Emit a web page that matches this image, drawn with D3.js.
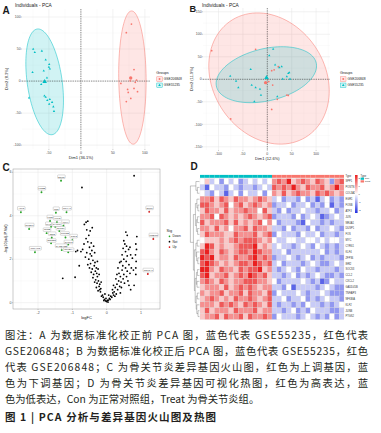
<!DOCTYPE html>
<html>
<head>
<meta charset="utf-8">
<script src="https://cdn.jsdelivr.net/npm/d3@7"></script>
<style>
body { margin: 0; background: #fff; }
text { font-family: "Liberation Sans", Arial, sans-serif; }
</style>
</head>
<body>
<script>
// ---------- données ----------
// A : PCA avant correction (Dim1, Dim2)
const pcaA_GSE206848 = [[79,89],[71,75.5],[83,18],[77,0.5],[87,1.5],[62.5,-3.6],[73,-13],[83,-11.5],[88.5,-16.5],[74,-17.7],[78,-27],[71,-32],[85,-2]]
const pcaA_GSE55235 = [[-74.5,50],[-72,45],[-61,47],[-55,33],[-49.5,26],[-50,22],[-75.5,13.5],[-58,16],[-48.5,19],[-81,-26],[-57,-23],[-55,-25],[-52.5,-30],[-48.5,-28.5],[-45,-33],[-43,-40],[-49.5,-36],[-42,-47],[-62,-5],[-53,5]]
// ellipses : centre x, centre y, demi-grand axe, demi-petit axe, angle (degrés)
const ellA_GSE206848 = [80.5, 5.5, 104, 21.4, 90.7]
const ellA_GSE55235 = [-56.6, -1.2, 83.3, 27.3, 98]

// B : PCA après correction
const pcaB_GSE206848 = [[-114,63.6],[-24,66.7],[9,19],[14,21],[22.5,28],[11,-12.7],[40,-35],[43,-36],[20.5,-44.5],[9,-67],[-75,-88],[3,-5]]
const pcaB_GSE55235 = [[-76,7],[-64,-4],[-59.4,-18.6],[-34,22],[-32,-12.7],[-24,-18.6],[-15,-21.6],[-13,-35],[-26.6,-49.7],[4,52.5],[16,32],[24.6,26],[29.5,28],[31.5,0.7],[40,5.8],[43,13],[45,14.7],[46.5,0.7],[20.5,-38.6],[12,67]]
const ellB_GSE206848 = [3.5, 1.7, 151, 117, -65.6]
const ellB_GSE55235 = [-2, 10.2, 105.6, 57.6, 15.4]

const groups = ["GSE206848", "GSE55235"]

// C : volcan (logFC, -log10 adj.P)
const downGenes = ["EGR1","FOSB","ATF3","JUN","NR4A1","DUSP1","FOS","MYC","CYR61","KLF4","ZFP36","IER2","SOCS3","CCL2","CXCL2","GADD45B","TNFAIP3","NFKBIA","KLF2","JUNB","PTGS2"]
const downPts = [[-1.33,5.61],[-1.9,5.08],[-2.5,4.16],[-1.48,4.14],[-1.17,4.16],[-2.26,3.39],[-1.65,3.76],[-1.62,3.49],[-1.5,3.49],[-1.26,3.54],[-1.38,3.3],[-1.6,2.99],[-1.62,2.73],[-1.0,2.88],[-1.12,2.68],[-1.31,2.42],[-2.09,2.32],[-1.12,2.32],[-1.45,3.7],[-1.75,3.2],[-1.2,3.0]]
const upGenes = ["SPP1","POSTN","COL3A1"]
const upPts = [[1.24,4.18],[1.36,2.93],[1.2,1.32]]
const notPts = [[0,0.05],[0.02,0.1],[-0.03,0.08],[0.05,0.12],[-0.06,0.15],[0.08,0.2],[-0.1,0.25],[0.1,0.15],[-0.08,0.1],[0.04,0.03],[-0.02,0.2],[0.12,0.3],[-0.12,0.35],[0.15,0.25],[-0.15,0.3],[0.06,0.35],[-0.05,0.4],[0.18,0.45],[-0.18,0.5],[0.2,0.35],
  [-0.2,0.6],[-0.22,0.75],[-0.25,0.55],[-0.28,0.9],[-0.3,0.7],[-0.32,1.05],[-0.27,1.2],[-0.35,0.95],[-0.38,1.3],[-0.33,1.45],[-0.4,1.15],[-0.42,1.55],[-0.36,1.7],[-0.45,1.4],[-0.47,1.8],[-0.4,1.95],[-0.5,1.6],[-0.52,2.0],[-0.44,2.15],[-0.55,1.75],[-0.3,1.6],[-0.24,1.0],[-0.2,0.85],[-0.17,0.65],[-0.29,1.35],[-0.34,1.85],[-0.43,2.4],[-0.48,2.25],[-0.38,2.6],[-0.58,2.3],[-0.62,2.1],[-0.35,2.3],[-0.27,1.9],[-0.22,1.3],[-0.16,0.95],[-0.25,1.55],[-0.5,2.55],[-0.45,2.75],[-0.55,2.8],[-0.6,2.95],[-0.52,3.1],[-0.58,3.35],[-0.48,3.3],[-0.42,3.45],[-0.65,3.6],[-0.6,3.7],[-0.55,3.75],[-0.7,2.45],[-0.75,2.35],[-0.85,2.4],[-0.66,2.7],[-0.8,1.7],[-0.9,2.35],
  [-0.72,5.3],[0.8,5.84],[-1.28,1.12],[-0.92,1.17],
  [0.22,0.5],[0.25,0.7],[0.28,0.4],[0.3,0.85],[0.32,0.6],[0.35,1.0],[0.27,1.1],[0.38,0.75],[0.4,1.2],[0.36,1.35],[0.42,0.95],[0.45,1.5],[0.48,1.1],[0.5,1.3],[0.52,0.9],[0.47,1.7],[0.55,1.6],[0.58,1.2],[0.6,1.45],[0.62,1.0],[0.57,1.9],[0.65,1.75],[0.68,1.35],[0.7,0.6],[0.72,1.6],[0.5,2.0],[0.45,2.2],[0.55,2.35],[0.6,2.15],[0.48,2.5],[0.53,2.7],[0.58,2.6],[0.5,2.85],[0.64,2.45],[0.6,3.1],[0.56,3.25],[0.85,1.3],[0.85,1.6],[0.86,1.9],[0.84,2.2],[0.87,2.45],[0.85,2.7],[0.88,3.04],[0.7,2.2],[0.75,2.05],[0.8,0.8],[0.4,0.45],[0.33,1.6],[0.38,1.85],[0.3,1.3],[0.2,0.8],[0.17,0.6],[0.24,0.3],[0.43,0.7],[0.65,0.8],[0.78,1.5],[0.68,2.55],[0.42,1.9]]

// D : heatmap, 24 gènes x 30 échantillons (0 = -2 bleu, 4 = 0 blanc, 8 = +2 rouge)
const heatGenes = upGenes.concat(downGenes)
const sampleType = d3.range(30).map(i => i < 15 ? "Con" : "Treat")
const heatRows = [
  "453424342343434676856765765267",
  "314332432332343767686576675686",
  "432431342433424657567665767656",
  "667576576656765342332423134232",
  "776567467567656233423342324132",
  "576657566766475324233433233423",
  "667476565676567233324234312343",
  "756667575656746423332143323233",
  "665756466757665332423324233432",
  "576665576667567243332433423323",
  "455565676777656433443344343443",
  "587565567778565343323432432323",
  "786576567768766334233333342323",
  "878566576678676233432342323332",
  "787656567768767342333234322343",
  "886576657677856323432433233323",
  "785667567687675332342323432232",
  "676576566777665423333432312433",
  "566657567676566332413333234322",
  "656675667576657243334323343222",
  "567656576676567334233423234332",
  "666576765767657323323243323234",
  "575666576667566332342324333223",
  "566757667576676243332343232423"
]
// dendrogramme des lignes : [hauteur, gauche, droite], feuille = index de ligne
const rowTree = [9,
  [3.5, 0, [2, 1, 2]],
  [6,
    [4, [2.5, 3, [1.5, 4, 5]], [3, [2, 6, 7], [1.8, 8, 9]]],
    [5, [3.5, [2.2, 10, 11], [2.8, 12, [1.6, 13, 14]]],
        [4.2, [3, [2, 15, 16], [2.4, 17, 18]], [3.2, [2.1, 19, 20], [2.6, 21, [1.4, 22, 23]]]]]]]

const captionLines = [
  "图注：A 为数据标准化校正前 PCA 图，蓝色代表 GSE55235，红色代表",
  "GSE206848；B 为数据标准化校正后 PCA 图，蓝色代表 GSE55235，红色",
  "代表 GSE206848；C 为骨关节炎差异基因火山图，红色为上调基因，蓝",
  "色为下调基因；D 为骨关节炎差异基因可视化热图，红色为高表达，蓝",
  "色为低表达，Con 为正常对照组，Treat 为骨关节炎组。"
]
const figTitle = "图 1 | PCA 分析与差异基因火山图及热图"

// ---------- dessin ----------
const RED = "#F8766D", TEAL = "#00BFC4"
const grpCol = {GSE206848: RED, GSE55235: TEAL}

const svg = d3.select("body").append("svg")
  .attr("width", 381).attr("height", 433)
svg.append("rect").attr("width", 381).attr("height", 433).attr("fill", "#fff")

function letter(t, x, y, fs) {
  svg.append("text").attr("x", x).attr("y", y).text(t)
    .attr("font-size", fs || 10).attr("font-weight", "bold").attr("fill", "#1a1a1a")
}

function ellipsePath(x, y, e) {
  const [cx, cy, a, b, ang] = e
  const th = ang * Math.PI / 180
  const pts = d3.range(0, 100).map(i => {
    const t = i / 100 * 2 * Math.PI
    const dx = a * Math.cos(t), dy = b * Math.sin(t)
    return [x(cx + dx * Math.cos(th) - dy * Math.sin(th)), y(cy + dx * Math.sin(th) + dy * Math.cos(th))]
  })
  return d3.line().curve(d3.curveLinearClosed)(pts)
}

function symbolFor(grp, size) {
  return d3.symbol().type(grp === "GSE55235" ? d3.symbolTriangle : d3.symbolCircle).size(size)()
}

function drawPCA(cfg) {
  const {x, y} = cfg
  const g = svg.append("g")
  const [xl, xr] = x.range(), [yb, yt] = y.range()
  const xd = x.domain(), yd = y.domain()
  // grille
  const gx = d3.range(-300, 301, cfg.step / 2).filter(v => v >= xd[0] && v <= xd[1])
  const gy = d3.range(-300, 301, cfg.step / 2).filter(v => v >= yd[0] && v <= yd[1])
  gx.forEach(v => g.append("line").attr("x1", x(v)).attr("x2", x(v)).attr("y1", yt).attr("y2", yb)
    .attr("stroke", v % cfg.step === 0 ? "#e4e4e4" : "#f2f2f2").attr("stroke-width", v % cfg.step === 0 ? 0.5 : 0.3))
  gy.forEach(v => g.append("line").attr("y1", y(v)).attr("y2", y(v)).attr("x1", xl).attr("x2", xr)
    .attr("stroke", v % cfg.step === 0 ? "#e4e4e4" : "#f2f2f2").attr("stroke-width", v % cfg.step === 0 ? 0.5 : 0.3))
  // ellipses
  groups.forEach(grp => {
    g.append("path").attr("d", ellipsePath(x, y, cfg.ell[grp]))
      .attr("fill", grpCol[grp]).attr("fill-opacity", 0.18)
      .attr("stroke", grpCol[grp]).attr("stroke-width", 0.5)
  })
  // axes zéro
  g.append("line").attr("x1", x(0)).attr("x2", x(0)).attr("y1", yt).attr("y2", yb)
    .attr("stroke", "#222").attr("stroke-width", 0.5).attr("stroke-dasharray", "1.3,1")
  g.append("line").attr("y1", y(0)).attr("y2", y(0)).attr("x1", xl).attr("x2", xr)
    .attr("stroke", "#222").attr("stroke-width", 0.5).attr("stroke-dasharray", "1.3,1")
  // points + moyennes
  groups.forEach(grp => {
    const pts = cfg.pts[grp]
    g.selectAll(null).data(pts).enter().append("path")
      .attr("d", symbolFor(grp, 2.4))
      .attr("transform", d => `translate(${x(d[0])},${y(d[1])})`)
      .attr("fill", grpCol[grp])
    const m = [d3.mean(pts, d => d[0]), d3.mean(pts, d => d[1])]
    g.append("path").attr("d", symbolFor(grp, 9))
      .attr("transform", `translate(${x(m[0])},${y(m[1])})`).attr("fill", grpCol[grp])
  })
  // graduations
  cfg.xTicks.forEach(v => {
    g.append("line").attr("x1", x(v)).attr("x2", x(v)).attr("y1", yb).attr("y2", yb + 1).attr("stroke", "#555").attr("stroke-width", 0.3)
    g.append("text").attr("x", x(v)).attr("y", yb + 4.6).attr("text-anchor", "middle")
      .attr("font-size", 3.5).attr("fill", "#4d4d4d").text(v)
  })
  cfg.yTicks.forEach(v => {
    g.append("line").attr("x1", xl - 1).attr("x2", xl).attr("y1", y(v)).attr("y2", y(v)).attr("stroke", "#555").attr("stroke-width", 0.3)
    g.append("text").attr("x", xl - 1.4).attr("y", y(v) + 1.2).attr("text-anchor", "end")
      .attr("font-size", 3.5).attr("fill", "#4d4d4d").text(v)
  })
  g.append("text").attr("x", x(0)).attr("y", yb + 9.5).attr("text-anchor", "middle")
    .attr("font-size", 4).attr("fill", "#222").text(cfg.xlab)
  g.append("text").attr("transform", `translate(${cfg.ylabX},${(yb + yt) / 2}) rotate(-90)`)
    .attr("text-anchor", "middle").attr("font-size", 4).attr("fill", "#222").text(cfg.ylab)
  g.append("text").attr("x", cfg.titleX).attr("y", 6.8).attr("font-size", 4.8).attr("fill", "#222").text("Individuals - PCA")
  // légende
  const lx = cfg.legX
  g.append("text").attr("x", lx).attr("y", 73.5).attr("font-size", 3.8).attr("fill", "#222").text("Groups")
  groups.forEach((grp, i) => {
    const ky = 76.8 + i * 6.2
    g.append("rect").attr("x", lx + 0.5).attr("y", ky).attr("width", 5.5).attr("height", 4.6)
      .attr("fill", grpCol[grp]).attr("fill-opacity", 0.18).attr("stroke", grpCol[grp]).attr("stroke-width", 0.4)
    g.append("path").attr("d", symbolFor(grp, 3)).attr("transform", `translate(${lx + 3.25},${ky + 2.3})`).attr("fill", grpCol[grp])
    g.append("text").attr("x", lx + 7.5).attr("y", ky + 3.4).attr("font-size", 3.3).attr("fill", "#222").text(grp)
  })
}

// Panneau A
letter("A", 2.5, 13.5)
drawPCA({
  x: d3.scaleLinear().domain([-92, 108]).range([22, 150]),
  y: d3.scaleLinear().domain([-106, 112.5]).range([149, 9]),
  step: 50,
  pts: {GSE206848: pcaA_GSE206848, GSE55235: pcaA_GSE55235},
  ell: {GSE206848: ellA_GSE206848, GSE55235: ellA_GSE55235},
  xTicks: [-50, 0, 50, 100], yTicks: [-100, -50, 0, 50, 100],
  xlab: "Dim1 (36.1%)", ylab: "Dim2 (8.3%)", ylabX: 8.2, titleX: 15, legX: 156.3
})

// Panneau B
letter("B", 189.6, 11.6, 9.2)
drawPCA({
  x: d3.scaleLinear().domain([-131.8, 128.5]).range([203, 330]),
  y: d3.scaleLinear().domain([-157.1, 158.4]).range([150, 8]),
  step: 50,
  pts: {GSE206848: pcaB_GSE206848, GSE55235: pcaB_GSE55235},
  ell: {GSE206848: ellB_GSE206848, GSE55235: ellB_GSE55235},
  xTicks: [-100, -50, 0, 50, 100], yTicks: [-150, -100, -50, 0, 50, 100, 150],
  xlab: "Dim1 (12.6%)", ylab: "Dim2 (11.9%)", ylabX: 193, titleX: 202, legX: 340
})

// Panneau C : volcan
letter("C", 2.5, 170.5)
{
  const x = d3.scaleLinear().domain([-2.73, 1.555]).range([13, 160])
  const y = d3.scaleLinear().domain([-0.29, 6.15]).range([309, 169])
  const g = svg.append("g")
  const [xl, xr] = x.range(), [yb, yt] = y.range()
  d3.range(-2.5, 1.6, 0.5).forEach(v => g.append("line").attr("x1", x(v)).attr("x2", x(v)).attr("y1", yt).attr("y2", yb)
    .attr("stroke", Number.isInteger(v) ? "#e6e6e6" : "#f3f3f3").attr("stroke-width", Number.isInteger(v) ? 0.5 : 0.3))
  d3.range(0, 6.1, 1).forEach(v => g.append("line").attr("y1", y(v)).attr("y2", y(v)).attr("x1", xl).attr("x2", xr)
    .attr("stroke", v % 2 === 0 ? "#e6e6e6" : "#f3f3f3").attr("stroke-width", v % 2 === 0 ? 0.5 : 0.3))
  g.append("rect").attr("x", xl).attr("y", yt).attr("width", xr - xl).attr("height", yb - yt)
    .attr("fill", "none").attr("stroke", "#999").attr("stroke-width", 0.5)
  ;[-2, -1, 0, 1].forEach(v => {
    g.append("line").attr("x1", x(v)).attr("x2", x(v)).attr("y1", yb).attr("y2", yb + 1).attr("stroke", "#555").attr("stroke-width", 0.3)
    g.append("text").attr("x", x(v)).attr("y", yb + 4.6).attr("text-anchor", "middle").attr("font-size", 3.6).attr("fill", "#4d4d4d").text(v)
  })
  ;[0, 2, 4, 6].forEach(v => {
    g.append("line").attr("x1", xl - 1).attr("x2", xl).attr("y1", y(v)).attr("y2", y(v)).attr("stroke", "#555").attr("stroke-width", 0.3)
    g.append("text").attr("x", xl - 1.5).attr("y", y(v) + 1.2).attr("text-anchor", "end").attr("font-size", 3.6).attr("fill", "#4d4d4d").text(v)
  })
  g.append("text").attr("x", (xl + xr) / 2).attr("y", 318.5).attr("text-anchor", "middle").attr("font-size", 4).attr("fill", "#222").text("logFC")
  g.append("text").attr("transform", `translate(6.5,${(yb + yt) / 2}) rotate(-90)`).attr("text-anchor", "middle")
    .attr("font-size", 4).attr("fill", "#222").text("-log10(adj.P.Val)")

  const GREEN = "#22aa22", UPRED = "#dd1111"
  g.selectAll(null).data(notPts).enter().append("circle")
    .attr("cx", d => x(d[0])).attr("cy", d => y(d[1])).attr("r", 0.9).attr("fill", "#000")
  const sig = downPts.map((d, i) => ({p: d, name: downGenes[i], col: GREEN}))
    .concat(upPts.map((d, i) => ({p: d, name: upGenes[i], col: UPRED})))
  sig.forEach(s => g.append("circle").attr("cx", x(s.p[0])).attr("cy", y(s.p[1])).attr("r", 0.95).attr("fill", s.col))

  // étiquettes façon ggrepel (répulsion simple)
  const labs = sig.map(s => {
    const px = x(s.p[0]), py = y(s.p[1])
    return {px, py, name: s.name, w: s.name.length * 1.45 + 1.8, h: 3.6, cx: px + 3, cy: py - 4}
  })
  for (let it = 0; it < 400; it++) {
    for (let i = 0; i < labs.length; i++) {
      const a = labs[i]
      for (let j = i + 1; j < labs.length; j++) {
        const b = labs[j]
        const dx = b.cx - a.cx, dy = b.cy - a.cy
        const ox = (a.w + b.w) / 2 + 0.5 - Math.abs(dx), oy = (a.h + b.h) / 2 + 0.5 - Math.abs(dy)
        if (ox > 0 && oy > 0) {
          if (ox * 0.6 < oy) { const s = (dx >= 0 ? 1 : -1) * ox / 2; a.cx -= s; b.cx += s }
          else { const s = (dy >= 0 ? 1 : -1) * oy / 2; a.cy -= s; b.cy += s }
        }
      }
      labs.forEach(q => {
        const dx = a.cx - q.px, dy = a.cy - q.py
        const ox = a.w / 2 + 1 - Math.abs(dx), oy = a.h / 2 + 1 - Math.abs(dy)
        if (ox > 0 && oy > 0) { if (ox < oy) a.cx += (dx >= 0 ? 1 : -1) * ox * 0.5; else a.cy += (dy >= 0 ? 1 : -1) * oy * 0.5 }
      })
      a.cx += (a.px - a.cx) * 0.005
      a.cy += (a.py - 4 - a.cy) * 0.005
      a.cx = Math.max(xl + a.w / 2 + 0.5, Math.min(xr - a.w / 2 - 0.5, a.cx))
      a.cy = Math.max(yt + a.h / 2 + 0.5, Math.min(yb - a.h / 2 - 0.5, a.cy))
    }
  }
  labs.forEach(l => {
    g.append("line").attr("x1", l.px).attr("y1", l.py).attr("x2", l.cx).attr("y2", l.cy)
      .attr("stroke", "#666").attr("stroke-width", 0.25)
  })
  labs.forEach(l => {
    g.append("rect").attr("x", l.cx - l.w / 2).attr("y", l.cy - l.h / 2).attr("width", l.w).attr("height", l.h)
      .attr("rx", 0.6).attr("fill", "#fff").attr("stroke", "#888").attr("stroke-width", 0.3)
    g.append("text").attr("x", l.cx).attr("y", l.cy + 0.85).attr("text-anchor", "middle")
      .attr("font-size", 2.4).attr("fill", "#333").text(l.name)
  })
  // légende
  g.append("text").attr("x", 166.5).attr("y", 231.5).attr("font-size", 3.8).attr("fill", "#222").text("Sig")
  ;[["Down", GREEN], ["Not", "#000"], ["Up", UPRED]].forEach(([t, c], i) => {
    const ky = 236.3 + i * 5.4
    g.append("circle").attr("cx", 169.5).attr("cy", ky).attr("r", 0.85).attr("fill", c)
    g.append("text").attr("x", 172.5).attr("y", ky + 1.1).attr("font-size", 3.2).attr("fill", "#222").text(t)
  })
}

// Panneau D : heatmap
letter("D", 190.5, 169.5)
{
  const g = svg.append("g")
  const xB = d3.scaleBand().domain(d3.range(30)).range([200, 344])
  const yB = d3.scaleBand().domain(d3.range(heatGenes.length)).range([178.6, 319.5])
  const col = d3.scaleLinear().domain([-2, 0, 2]).range(["#2430e0", "#ffffff", "#ea2020"])
  const typeCol = {Con: TEAL, Treat: RED}
  g.selectAll(null).data(sampleType).enter().append("rect")
    .attr("x", (d, i) => xB(i)).attr("y", 174.9).attr("width", xB.bandwidth()).attr("height", 2.9)
    .attr("fill", d => typeCol[d])
  g.append("text").attr("x", 345.5).attr("y", 177.4).attr("font-size", 2.6).attr("fill", "#333").text("Type")
  heatRows.forEach((row, r) => {
    row.split("").forEach((ch, c) => {
      g.append("rect").attr("x", xB(c)).attr("y", yB(r)).attr("width", xB.bandwidth()).attr("height", yB.bandwidth())
        .attr("fill", col((+ch - 4) / 2)).attr("stroke", "#d8d8d8").attr("stroke-width", 0.2)
    })
    g.append("text").attr("x", 345.5).attr("y", yB(r) + yB.bandwidth() / 2 + 0.9)
      .attr("font-size", 2.6).attr("fill", "#333").text(heatGenes[r])
  })
  // dendrogramme
  const hx = d3.scaleLinear().domain([0, 9]).range([199.4, 190.4])
  function walk(node) {
    if (typeof node === "number") return {y: yB(node) + yB.bandwidth() / 2, h: 0}
    const [h, a, b] = node
    const A = walk(a), B = walk(b)
    const path = `M${hx(A.h)},${A.y}H${hx(h)}V${B.y}H${hx(B.h)}`
    g.append("path").attr("d", path).attr("fill", "none").attr("stroke", "#555").attr("stroke-width", 0.35)
    return {y: (A.y + B.y) / 2, h}
  }
  walk(rowTree)
  // légende couleur
  const cb = d3.scaleLinear().domain([-2.4, 2.4]).range([213, 175])
  const grad = svg.append("defs").append("linearGradient").attr("id", "cbar")
    .attr("x1", 0).attr("y1", 1).attr("x2", 0).attr("y2", 0)
  ;[-2, 0, 2].forEach((v, i) => grad.append("stop").attr("offset", i / 2).attr("stop-color", col(v)))
  g.append("rect").attr("x", 355).attr("y", 175).attr("width", 2.6).attr("height", 38).attr("fill", "url(#cbar)")
  ;[-2, -1, 0, 1, 2].forEach(v => g.append("text").attr("x", 358.4).attr("y", cb(v) + 0.8)
    .attr("font-size", 2.4).attr("fill", "#333").text(v))
  g.append("text").attr("x", 360.6).attr("y", 176.8).attr("font-size", 2.6).attr("fill", "#333").text("Type")
  ;["Con", "Treat"].forEach((t, i) => {
    g.append("rect").attr("x", 360.6).attr("y", 177.6 + i * 2.7).attr("width", 3.4).attr("height", 2.2).attr("fill", typeCol[t])
    g.append("text").attr("x", 364.8).attr("y", 179.4 + i * 2.7).attr("font-size", 2.4).attr("fill", "#333").text(t)
  })
}

// légende texte en bas
const capFont = '"Noto Sans CJK SC", "Liberation Sans", sans-serif'
captionLines.forEach((t, i) => {
  const el = svg.append("text").attr("x", 5).attr("y", 339 + i * 16)
    .attr("font-size", 10.3).attr("fill", "#231f20").style("font-family", capFont).text(t)
  if (i < 4) el.attr("textLength", 363).attr("lengthAdjust", "spacing")
})
svg.append("text").attr("x", 5).attr("y", 420.5).attr("font-size", 10.5).attr("font-weight", "bold")
  .attr("fill", "#231f20").style("font-family", capFont)
  .attr("textLength", 211).attr("lengthAdjust", "spacing").text(figTitle)
</script>
</body>
</html>
